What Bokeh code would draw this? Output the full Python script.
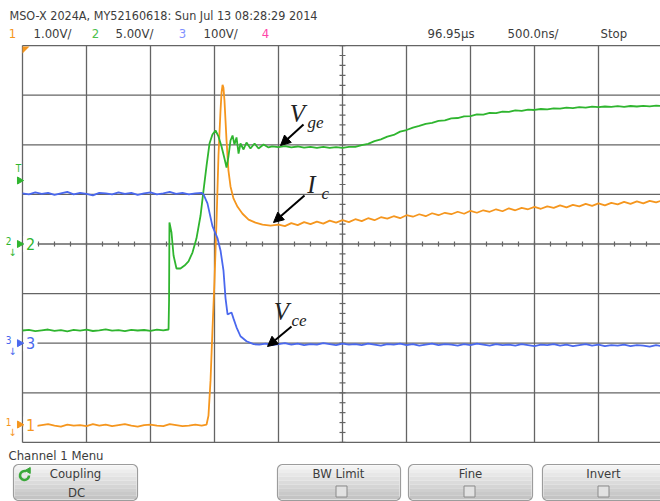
import numpy as np
from bokeh.plotting import figure
from bokeh.models import Range1d, Arrow, NormalHead
from bokeh.embed import file_html
from bokeh.resources import INLINE
from bokeh.core.properties import value

# ---------------------------------------------------------------------------
# Captured waveforms.  Time in ns relative to the screen centre (500 ns/div).
# ---------------------------------------------------------------------------
t_pre = [-2500, -2450, -2400, -2350, -2300, -2250, -2200, -2150, -2100, -2050,
         -2000, -1950, -1900, -1850, -1800, -1750, -1700, -1650, -1600, -1550,
         -1500, -1450, -1400, -1350, -1300, -1250, -1200, -1150, -1100]
t_post = [-650, -600, -550, -500, -450, -400, -350, -300, -250, -200,
          -150, -100, -50, 0, 50, 100, 150, 200, 250, 300,
          350, 400, 450, 500, 550, 600, 650, 700, 750, 800,
          850, 900, 950, 1000, 1050, 1100, 1150, 1200, 1250, 1300,
          1350, 1400, 1450, 1500, 1550, 1600, 1650, 1700, 1750, 1800,
          1850, 1900, 1950, 2000, 2050, 2100, 2150, 2200, 2250, 2300,
          2350, 2400, 2450, 2500]

# Channel 3 - Vce (V)
vce_pre = [302, 300, 304, 301, 303, 299, 302, 305, 300, 303,
           301, 298, 303, 302, 300, 304, 301, 303, 299, 302,
           304, 300, 302, 305, 301, 303, 300, 302, 303]
vce_edge_t = [-1086, -1055, -1016, -977, -953, -930, -914, -898, -883, -867,
              -852, -828, -797, -750, -695]
vce_edge = [300, 282, 236, 212, 187, 147, 91, 58, 60, 62,
            50, 32, 14, 4, -2]
vce_post = [-3, -1, -4, -2, 0, -3, -1, -4, -2, -3,
            0, -2, -4, -1, -3, -2, -4, -1, -3, -5,
            -2, -3, -1, -4, -2, -5, -3, -1, -4, -2,
            -3, -5, -2, -4, -1, -3, -5, -2, -4, -3,
            -5, -2, -4, -6, -3, -4, -2, -5, -3, -6,
            -4, -2, -5, -3, -6, -4, -5, -3, -6, -4,
            -5, -7, -4, -6]

# Channel 2 - Vge (V)
vge_pre = [-8.72, -8.65, -8.78, -8.70, -8.62, -8.75, -8.68, -8.80, -8.66, -8.73,
           -8.64, -8.77, -8.70, -8.61, -8.74, -8.69, -8.79, -8.65, -8.72, -8.67,
           -8.76, -8.63, -8.71]
vge_edge_t = [-1359, -1355, -1352, -1336, -1320, -1297, -1266, -1234, -1203, -1172,
              -1141, -1109, -1086, -1062, -1039, -1016, -992, -969, -945, -922,
              -906, -891, -875, -859, -844, -828, -812, -797, -773, -750,
              -719, -687, -656, -617, -578]
vge_edge = [-8.62, -5.70, 2.17, 1.16, -1.16, -2.47, -2.47, -2.17, -1.76, -0.86,
            0.55, 2.87, 5.39, 7.91, 10.13, 11.04, 11.44, 10.84, 9.83, 8.62,
            7.71, 8.82, 10.43, 10.94, 10.03, 10.74, 9.12, 10.13, 9.53, 10.23,
            9.63, 10.13, 9.63, 10.03, 9.73]
vge_post = [9.85, 9.76, 9.86, 9.74, 9.83, 9.71, 9.80, 9.69, 9.79, 9.68,
            9.77, 9.69, 9.79, 9.80, 9.97, 10.10, 10.37, 10.55, 10.83, 10.99,
            11.33, 11.49, 11.73, 11.90, 12.11, 12.22, 12.41, 12.47, 12.66, 12.70,
            12.87, 12.89, 13.06, 13.04, 13.21, 13.19, 13.34, 13.31, 13.46, 13.41,
            13.54, 13.51, 13.61, 13.58, 13.68, 13.64, 13.74, 13.70, 13.80, 13.74,
            13.84, 13.79, 13.86, 13.82, 13.89, 13.83, 13.91, 13.86, 13.93, 13.88,
            13.94, 13.90]

# Channel 1 - Ic current-probe output (V)
ic_pre = [-0.02, 0.00, -0.03, -0.01, 0.01, -0.02, -0.04, 0.00, -0.02, -0.01,
          -0.03, 0.01, -0.02, 0.00, -0.03, -0.01, 0.01, -0.02, -0.04, -0.01,
          0.00, -0.02, -0.03, 0.01, -0.01, -0.03, -0.02, 0.00, -0.02]
ic_edge_t = [-1062, -1047, -1031, -1016, -1000, -984, -969, -953, -945, -937,
             -930, -922, -914, -906, -891, -875, -852, -820, -781, -734,
             -680, -625, -562]
ic_edge = [0.00, 0.18, 0.89, 1.90, 2.90, 4.11, 5.42, 6.33, 6.69, 6.85,
           6.79, 6.53, 6.13, 5.73, 5.12, 4.80, 4.56, 4.39, 4.25, 4.13,
           4.07, 4.03, 4.01]
ic_post = [4.03, 4.00, 4.06, 4.02, 4.08, 4.04, 4.09, 4.05, 4.11, 4.07,
           4.12, 4.08, 4.14, 4.10, 4.16, 4.12, 4.18, 4.15, 4.20, 4.16,
           4.22, 4.19, 4.24, 4.20, 4.26, 4.22, 4.27, 4.24, 4.29, 4.25,
           4.31, 4.27, 4.32, 4.29, 4.34, 4.30, 4.36, 4.32, 4.37, 4.34,
           4.39, 4.35, 4.40, 4.37, 4.42, 4.38, 4.43, 4.40, 4.45, 4.41,
           4.46, 4.42, 4.47, 4.44, 4.49, 4.45, 4.50, 4.46, 4.51, 4.48,
           4.52]

trigger_level_v = 6.4            # channel 2 trigger level

# Status line / soft-key texts
title_line = "MSO-X 2024A, MY52160618: Sun Jul 13 08:28:29 2014"
channel_ids = ["1", "2", "3", "4"]
channel_scales = ["1.00V/", "5.00V/", "100V/"]
delay_text = "96.95µs"
timebase_text = "500.0ns/"
run_state = "Stop"
menu_title = "Channel 1 Menu"
softkeys = ["Coupling", "BW Limit", "Fine", "Invert"]

# ---------------------------------------------------------------------------
# Screen geometry
# ---------------------------------------------------------------------------
W, H = 660, 501
GX0, PX_PER_DIV_X, NS_PER_DIV = 22, 64.0, 500.0
GY_CENTER, PX_PER_DIV_Y = 243.5, 49.6

t_left = -5 * NS_PER_DIV - GX0 / PX_PER_DIV_X * NS_PER_DIV
t_right = t_left + W / PX_PER_DIV_X * NS_PER_DIV
div_top = GY_CENTER / PX_PER_DIV_Y
div_bot = -(H - GY_CENTER) / PX_PER_DIV_Y

ORANGE = "#f5961e"
GREEN = "#2fb52f"
BLUE = "#4a68ee"
PINK = "#ff44a8"
GRID = "#646464"
TXT = "#3c3c3c"

SANS = "Liberation Sans Narrow, DejaVu Sans Condensed, Liberation Sans"
SERIF = "Liberation Serif"

# volts/div and ground position (div) for each channel
chan_cfg = {"ch1": (1.0, -3.64), "ch2": (5.0, 0.0), "ch3": (100.0, -2.0)}

p = figure(width=W, height=H, output_backend="svg", toolbar_location=None,
           x_range=Range1d(t_left, t_right), y_range=Range1d(div_bot, div_top),
           x_axis_type=None, y_axis_type=None, min_border=0,
           background_fill_color="white", border_fill_color="white",
           outline_line_color=None)
p.grid.visible = False

p.extra_x_ranges = {"px": Range1d(0, W)}
p.extra_y_ranges = {"py": Range1d(H, 0)}
for name, (vdiv, gnd) in chan_cfg.items():
    p.extra_y_ranges[name] = Range1d((div_bot - gnd) * vdiv, (div_top - gnd) * vdiv)

PX = dict(x_range_name="px", y_range_name="py")

# ---------------------------------------------------------------------------
# Graticule
# ---------------------------------------------------------------------------
grid_t = np.arange(-5, 6) * NS_PER_DIV
grid_d = np.arange(-4, 5)
p.segment(x0=grid_t, x1=grid_t, y0=-4, y1=4, line_color=GRID, line_width=1.3)
p.segment(x0=-5 * NS_PER_DIV, x1=5 * NS_PER_DIV, y0=grid_d, y1=grid_d,
          line_color=GRID, line_width=1.3)

tick_t = np.arange(-20, 21) * NS_PER_DIV / 4
p.segment(x0=tick_t, x1=tick_t, y0=-0.05, y1=0.05, line_color=GRID, line_width=1.2)
tick_d = np.arange(-20, 21) / 5
tick_half = 3 / PX_PER_DIV_X * NS_PER_DIV
p.segment(x0=-tick_half, x1=tick_half, y0=tick_d, y1=tick_d,
          line_color=GRID, line_width=1.2)

# ---------------------------------------------------------------------------
# Traces
# ---------------------------------------------------------------------------
p.line(t_pre + ic_edge_t + t_post[3:], ic_pre + ic_edge + ic_post,
       y_range_name="ch1", line_color=ORANGE, line_width=1.8)
p.line(t_pre[:23] + vge_edge_t + t_post[2:], vge_pre + vge_edge + vge_post,
       y_range_name="ch2", line_color=GREEN, line_width=1.8)
p.line(t_pre + vce_edge_t + t_post, vce_pre + vce_edge + vce_post,
       y_range_name="ch3", line_color=BLUE, line_width=1.8)

# ---------------------------------------------------------------------------
# Ground reference and trigger markers at the left edge
# ---------------------------------------------------------------------------
for name, ident, col in [("ch1", "1", ORANGE), ("ch2", "2", GREEN), ("ch3", "3", BLUE)]:
    p.rect(x=[30], y=[0], width=14, height=16, width_units="screen",
           height_units="screen", fill_color="white", line_color=None,
           x_range_name="px", y_range_name=name)
    p.text(x=[30], y=[0], text=[ident], x_range_name="px", y_range_name=name,
           text_font=value(SANS), text_font_size="16px", text_color=col,
           text_align="center", text_baseline="middle")
    p.text(x=[8], y=[0], text=[ident], y_offset=-3, x_range_name="px",
           y_range_name=name, text_font=value(SANS), text_font_size="10px",
           text_color=col, text_align="center", text_baseline="middle")
    p.text(x=[12], y=[0], text=["↓"], y_offset=8, x_range_name="px",
           y_range_name=name, text_font=value("DejaVu Sans"), text_font_size="10px",
           text_color=col, text_align="center", text_baseline="middle")
    p.scatter(x=[19], y=[0], marker="triangle", size=7, angle=-np.pi / 2,
              fill_color=col, line_color=col, x_range_name="px", y_range_name=name)

p.text(x=[18], y=[trigger_level_v], text=["T"], y_offset=-12, x_range_name="px",
       y_range_name="ch2", text_font=value(SANS), text_font_size="10px",
       text_color=GREEN, text_align="center", text_baseline="middle")
p.scatter(x=[19], y=[trigger_level_v], marker="triangle", size=7, angle=-np.pi / 2,
          fill_color=GREEN, line_color=GREEN, x_range_name="px", y_range_name="ch2")

# trigger-point flag in the top-left corner
p.patch([22, 29, 22], [46, 46, 53], fill_color=ORANGE, line_color=None, **PX)

# ---------------------------------------------------------------------------
# Trace annotations
# ---------------------------------------------------------------------------
def tag(x, y, main, sub):
    p.text(x=[x], y=[y], text=[main], text_font=value(SERIF), text_font_style="italic",
           text_font_size="25px", text_color="#222222", text_align="center",
           text_baseline="middle", **PX)
    p.text(x=[x + 10], y=[y + 9], text=[sub], text_font=value(SERIF),
           text_font_style="italic", text_font_size="17px", text_color="#222222",
           text_align="left", text_baseline="middle", **PX)

tag(297, 113, "V", "ge")
tag(311, 184, "I", "c")
tag(281, 311, "V", "ce")

for xs, ys, xe, ye in [(303, 124, 280, 145), (304, 195, 273, 222), (291, 326, 267, 346)]:
    p.add_layout(Arrow(x_start=xs, y_start=ys, x_end=xe, y_end=ye, line_width=2,
                       line_color="black",
                       end=NormalHead(size=10, fill_color="black", line_color="black"),
                       **PX))

# ---------------------------------------------------------------------------
# Status line
# ---------------------------------------------------------------------------
def label(x, y, s, color=TXT, size="12.5px", align="left", font=SANS):
    p.text(x=[x], y=[y], text=[s], text_font=value(font), text_font_size=size,
           text_color=color, text_align=align, text_baseline="middle", **PX)

label(9, 15, title_line)
for x, s, c in [(12, channel_ids[0], ORANGE), (95, channel_ids[1], "#4cc04c"),
                (182, channel_ids[2], "#8190ff"), (265, channel_ids[3], PINK)]:
    label(x, 33, s, color=c, size="13px", align="center")
label(33, 33, channel_scales[0], size="13px")
label(115, 33, channel_scales[1], size="13px")
label(203, 33, channel_scales[2], size="13px")
label(427, 33, delay_text, size="13px")
label(507, 33, timebase_text, size="13px")
label(600, 33, run_state, size="13px")

# ---------------------------------------------------------------------------
# Soft-key menu
# ---------------------------------------------------------------------------
label(8, 455, menu_title, size="13px")

def rounded(x0, x1, y0, y1, r=5):
    xs, ys = [], []
    for cx, cy, a0 in [(x1 - r, y0 + r, -90), (x1 - r, y1 - r, 0),
                       (x0 + r, y1 - r, 90), (x0 + r, y0 + r, 180)]:
        a = np.radians(np.linspace(a0, a0 + 90, 6))
        xs += list(cx + r * np.cos(a))
        ys += list(cy + r * np.sin(a))
    return xs, ys

def softkey(x0, x1, y0=464, y1=500):
    n = 9
    edges = np.linspace(y0 + 1, y1 - 1, n + 1)
    shades = np.linspace(243, 196, n).astype(int)
    cols = ["#%02x%02x%02x" % (s, s, s) for s in shades]
    p.quad(left=x0 + 1, right=x1 - 1, top=edges[:-1], bottom=edges[1:],
           fill_color=cols, line_color=None, **PX)
    xs, ys = rounded(x0, x1, y0, y1)
    p.patch(xs, ys, fill_color=None, line_color="#9c9c9c", line_width=1.2, **PX)

def checkbox(cx, cy):
    p.quad(left=cx - 5.5, right=cx + 5.5, top=cy - 5.5, bottom=cy + 5.5,
           fill_color="#e2e2e2", line_color="#8a8a8a", line_width=1, **PX)

softkey(13, 137)
softkey(277, 400)
softkey(408, 532)
softkey(542, 672)

label(75, 473, softkeys[0], size="13px", align="center")
label(76, 492, "DC", size="13px", align="center")
p.arc(x=24, y=475, radius=4.5, start_angle=np.radians(70), end_angle=np.radians(360),
      line_color="#3aa83a", line_width=2.6, **PX)
p.scatter(x=[28], y=[470], marker="triangle", size=6, angle=np.radians(-30),
          fill_color="#3aa83a", line_color="#3aa83a", **PX)

label(338, 473, softkeys[1], size="13px", align="center")
checkbox(341, 491)
label(470, 473, softkeys[2], size="13px", align="center")
checkbox(469, 491)
label(603, 473, softkeys[3], size="13px", align="center")
checkbox(603, 491)

open("out.html", "w").write(file_html(p, INLINE))
